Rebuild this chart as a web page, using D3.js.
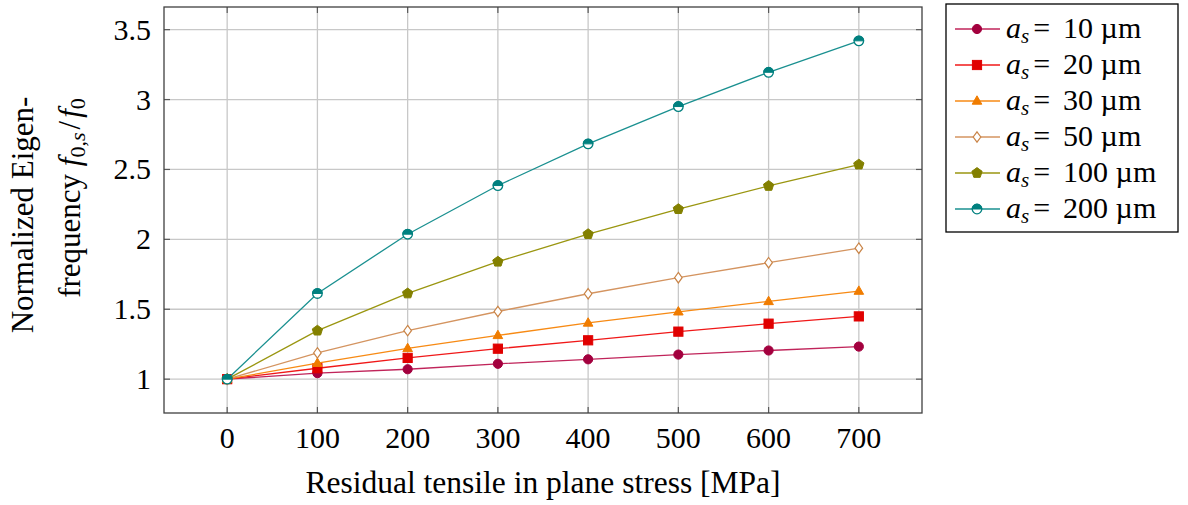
<!DOCTYPE html>
<html lang="en">
<meta charset="utf-8">
<style>
body { margin: 0; background: #fff; }
text { font-family: "Liberation Serif", "DejaVu Serif", serif; fill: #000; }
.grid line { stroke: #c8c8c8; stroke-width: 1.3; }
.frame { fill: none; stroke: #404040; stroke-width: 1.3; }
.tick { stroke: #5a5a5a; stroke-width: 1.2; }
</style>
<body>
<script src="https://d3js.org/d3.v7.min.js"></script>
<script>
var w = 1188, h = 505;

// stress values [MPa]
var stress = [0, 100, 200, 300, 400, 500, 600, 700];
var xTicks = [0, 100, 200, 300, 400, 500, 600, 700];
var yTicks = [1, 1.5, 2, 2.5, 3, 3.5];
var yTickLabels = ["1", "1.5", "2", "2.5", "3", "3.5"];

// normalized eigenfrequency for each a_s
var as10  = [1, 1.043, 1.071, 1.110, 1.142, 1.176, 1.205, 1.233];
var as20  = [1, 1.078, 1.152, 1.218, 1.278, 1.340, 1.397, 1.449];
var as30  = [1, 1.114, 1.220, 1.313, 1.402, 1.482, 1.556, 1.630];
var as50  = [1, 1.188, 1.347, 1.484, 1.611, 1.726, 1.833, 1.937];
var as100 = [1, 1.347, 1.613, 1.840, 2.037, 2.216, 2.382, 2.535];
var as200 = [1, 1.613, 2.037, 2.385, 2.683, 2.950, 3.195, 3.420];

var seriesNames = ["10", "20", "30", "50", "100", "200"];
var seriesData = [as10, as20, as30, as50, as100, as200];
var colors = ["#a3003e", "#e00000", "#f07c00", "#c98447", "#838000", "#00807f"];
var lineColors = ["#c0245a", "#f01818", "#f78a14", "#d49460", "#9a9610", "#1a9090"];
var markers = ["circle", "square", "triangle", "diamond", "pentagon", "halfcircle"];

var margin = {left: 164, right: 922, top: 7, bottom: 413};

var x = d3.scaleLinear().domain([-70, 770]).range([margin.left, margin.right]);
var y = d3.scaleLinear().domain([0.758, 3.662]).range([margin.bottom, margin.top]);

var svg = d3.select("body").append("svg")
  .attr("width", w).attr("height", h);

// grid
var grid = svg.append("g").attr("class", "grid");
grid.selectAll(".gx").data(xTicks).enter().append("line")
  .attr("x1", function(d) { return x(d); }).attr("x2", function(d) { return x(d); })
  .attr("y1", margin.top).attr("y2", margin.bottom);
grid.selectAll(".gy").data(yTicks).enter().append("line")
  .attr("y1", function(d) { return y(d); }).attr("y2", function(d) { return y(d); })
  .attr("x1", margin.left).attr("x2", margin.right);

// inner ticks on all four sides
var tl = 6;
var ticks = svg.append("g");
xTicks.forEach(function(d) {
  ticks.append("line").attr("class", "tick")
    .attr("x1", x(d)).attr("x2", x(d)).attr("y1", margin.bottom).attr("y2", margin.bottom - tl);
  ticks.append("line").attr("class", "tick")
    .attr("x1", x(d)).attr("x2", x(d)).attr("y1", margin.top).attr("y2", margin.top + tl);
});
yTicks.forEach(function(d) {
  ticks.append("line").attr("class", "tick")
    .attr("y1", y(d)).attr("y2", y(d)).attr("x1", margin.left).attr("x2", margin.left + tl);
  ticks.append("line").attr("class", "tick")
    .attr("y1", y(d)).attr("y2", y(d)).attr("x1", margin.right).attr("x2", margin.right - tl);
});

svg.append("rect").attr("class", "frame")
  .attr("x", margin.left).attr("y", margin.top)
  .attr("width", margin.right - margin.left).attr("height", margin.bottom - margin.top);

// tick labels
svg.selectAll(".xl").data(xTicks).enter().append("text")
  .attr("x", function(d) { return x(d); }).attr("y", 448)
  .attr("text-anchor", "middle").style("font-size", "30px")
  .text(function(d) { return d; });
svg.selectAll(".yl").data(yTicks).enter().append("text")
  .attr("x", 151).attr("y", function(d) { return y(d) + 10; })
  .attr("text-anchor", "end").style("font-size", "30px")
  .text(function(d, i) { return yTickLabels[i]; });

// marker drawing
function pentagonPath(r) {
  var p = [];
  for (var k = 0; k < 5; k++) {
    var a = -Math.PI / 2 + k * 2 * Math.PI / 5;
    p.push([r * Math.cos(a), r * Math.sin(a)]);
  }
  return "M" + p.map(function(q) { return q.join(","); }).join("L") + "Z";
}

function drawMarker(g, type, cx, cy, col) {
  var m = g.append("g").attr("transform", "translate(" + cx + "," + cy + ")");
  if (type === "circle") {
    m.append("circle").attr("r", 4.6).attr("fill", col).attr("stroke", col);
  } else if (type === "square") {
    m.append("rect").attr("x", -4.6).attr("y", -4.6).attr("width", 9.2).attr("height", 9.2)
      .attr("fill", col).attr("stroke", col);
  } else if (type === "triangle") {
    m.append("path").attr("d", "M0,-5.2L4.8,3.2L-4.8,3.2Z").attr("fill", col).attr("stroke", col);
  } else if (type === "diamond") {
    m.append("path").attr("d", "M0,-5.2L3.8,0L0,5.2L-3.8,0Z").attr("fill", "#fff")
      .attr("stroke", col).attr("stroke-width", 1.2);
  } else if (type === "pentagon") {
    m.append("path").attr("d", pentagonPath(5.4)).attr("fill", col).attr("stroke", col);
  } else if (type === "halfcircle") {
    m.append("circle").attr("r", 4.8).attr("fill", "#fff").attr("stroke", col).attr("stroke-width", 1.3);
    m.append("path").attr("d", "M-4.8,0A4.8,4.8 0 0 1 4.8,0Z").attr("fill", col).attr("stroke", col);
  }
}

// lines and markers
var line = d3.line()
  .x(function(d, i) { return x(stress[i]); })
  .y(function(d) { return y(d); });

seriesData.forEach(function(vals, s) {
  var g = svg.append("g");
  g.append("path").datum(vals).attr("d", line)
    .attr("fill", "none").attr("stroke", lineColors[s]).attr("stroke-width", 1.3);
  vals.forEach(function(v, i) {
    drawMarker(g, markers[s], x(stress[i]), y(v), colors[s]);
  });
});

// legend
var lg = svg.append("g");
lg.append("rect").attr("x", 946).attr("y", 4).attr("width", 232).attr("height", 228)
  .attr("fill", "#fff").attr("stroke", "#000").attr("stroke-width", 1.3);
var legendY = d3.scalePoint().domain(seriesNames).range([29, 209]);
seriesNames.forEach(function(n, s) {
  var ly = legendY(n);
  lg.append("line").attr("x1", 955).attr("x2", 1000).attr("y1", ly).attr("y2", ly)
    .attr("stroke", lineColors[s]).attr("stroke-width", 1.3);
  drawMarker(lg, markers[s], 977, ly, colors[s]);
  var t = lg.append("text").attr("x", 1006).attr("y", ly + 9).style("font-size", "30px");
  t.append("tspan").style("font-style", "italic").text("a");
  t.append("tspan").style("font-style", "italic").style("font-size", "21px").attr("dy", 5).text("s");
  t.append("tspan").attr("dy", -5).attr("dx", 4).text("=");
  t.append("tspan").attr("dx", 13).text(n + " µm");
});

// axis labels
var xl = svg.append("text").attr("x", 543).attr("y", 493)
  .attr("text-anchor", "middle").style("font-size", "31.5px");
xl.append("tspan").text("Residual tensile in plane stress [MPa]");

var yl1 = svg.append("text").attr("transform", "translate(33,215) rotate(-90)")
  .attr("text-anchor", "middle").style("font-size", "31px")
  .text("Normalized Eigen-");
var yl2 = svg.append("text").attr("transform", "translate(80,198) rotate(-90)")
  .attr("text-anchor", "middle").style("font-size", "31px");
yl2.append("tspan").text("frequency ");
yl2.append("tspan").style("font-style", "italic").text("f");
yl2.append("tspan").style("font-size", "22px").attr("dy", 5).text("0,");
yl2.append("tspan").style("font-size", "22px").style("font-style", "italic").text("s");
yl2.append("tspan").attr("dy", -5).attr("dx", 3).text("/");
yl2.append("tspan").attr("dx", 3).style("font-style", "italic").text("f");
yl2.append("tspan").style("font-size", "22px").attr("dy", 5).text("0");
</script>
</body>
</html>
